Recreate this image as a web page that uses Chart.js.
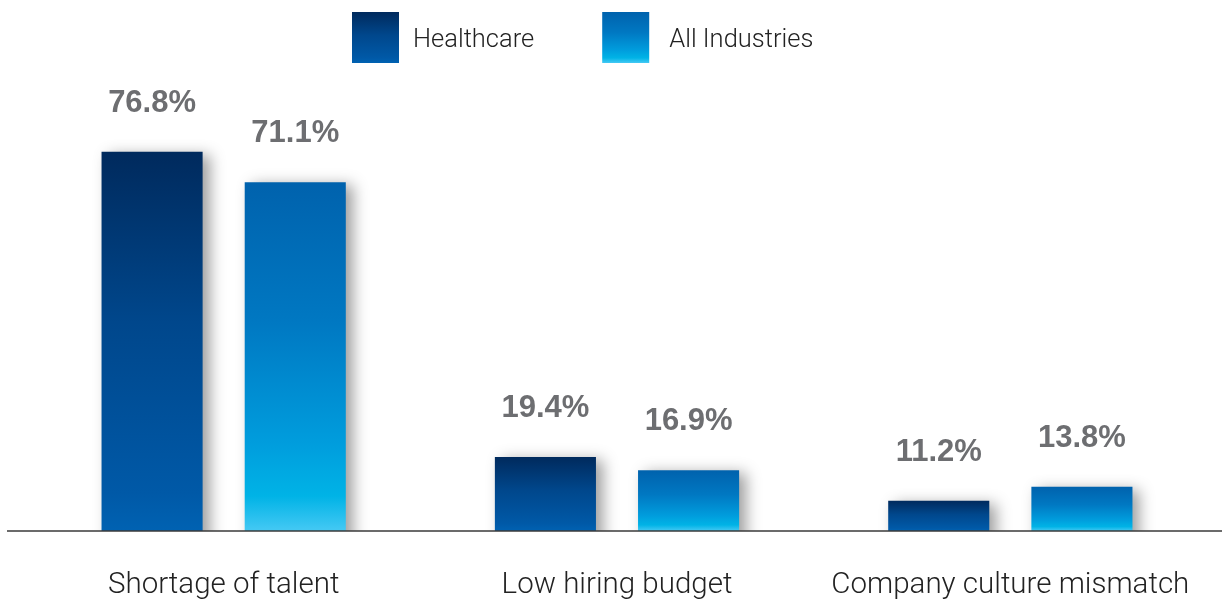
<!DOCTYPE html>
<html>
<head>
<meta charset="utf-8">
<script src="https://cdn.jsdelivr.net/npm/chart.js@4/dist/chart.umd.min.js"></script>
<style>
  html, body { margin: 0; padding: 0; background: #fff; }
  #wrap { width: 1224px; height: 600px; }
</style>
</head>
<body>
<div id="wrap"><canvas id="chartCanvas"></canvas></div>
<script>
const categories = ["Shortage of talent", "Low hiring budget", "Company culture mismatch"];
const seriesNames = ["Healthcare", "All Industries"];
const healthcare = [76.8, 19.4, 11.2];
const allIndustries = [71.1, 16.9, 13.8];

// gradient stops, top of bar -> bottom of bar
const healthcareStops = [[0, "#002a5d"], [0.45, "#00478c"], [0.9, "#0059a7"], [1, "#0062b2"]];
const allIndStops = [[0, "#0062ad"], [0.4, "#0078c2"], [0.75, "#009ddd"], [0.9, "#00b3e6"], [1, "#45c9f4"]];

function makeGradient(ctx, y0, y1, stops) {
  const g = ctx.createLinearGradient(0, y0, 0, y1);
  stops.forEach(s => g.addColorStop(s[0], s[1]));
  return g;
}

function barGradient(stops) {
  return function (context) {
    const chart = context.chart;
    const area = chart.chartArea;
    const yScale = chart.scales.y;
    if (!area || !yScale || context.raw == null) return stops[0][1];
    const top = yScale.getPixelForValue(context.raw);
    return makeGradient(chart.ctx, top, area.bottom, stops);
  };
}

const legendStops = [healthcareStops, allIndStops];

// drop shadow under the bars
const shadowPlugin = {
  id: "barShadow",
  beforeDatasetsDraw(chart) {
    const ctx = chart.ctx;
    ctx.save();
    ctx.shadowColor = "rgba(0, 0, 0, 0.38)";
    ctx.shadowBlur = 14;
    ctx.shadowOffsetX = 7;
    ctx.shadowOffsetY = 3;
  },
  afterDatasetsDraw(chart) {
    chart.ctx.restore();
  }
};

// baseline, value labels and the legend
const decorPlugin = {
  id: "decor",
  afterDatasetsDraw(chart) {
    const ctx = chart.ctx;
    const area = chart.chartArea;

    ctx.save();
    ctx.strokeStyle = "#3a3a3a";
    ctx.lineWidth = 1.6;
    ctx.beginPath();
    ctx.moveTo(7, area.bottom);
    ctx.lineTo(1222, area.bottom);
    ctx.stroke();

    ctx.fillStyle = "#6d6e71";
    ctx.font = "bold 31px 'Liberation Sans', Arial, sans-serif";
    ctx.textAlign = "center";
    ctx.textBaseline = "alphabetic";
    chart.data.datasets.forEach((ds, i) => {
      chart.getDatasetMeta(i).data.forEach((bar, j) => {
        ctx.fillText(ds.data[j].toFixed(1) + "%", bar.x, bar.y - 40);
      });
    });

    // legend
    ctx.font = "300 25.5px Roboto, 'Liberation Sans', sans-serif";
    ctx.textAlign = "left";
    ctx.textBaseline = "middle";
    let x = 352;
    const boxTop = 12, boxW = 47, boxH = 51;
    chart.data.datasets.forEach((ds, i) => {
      ctx.fillStyle = makeGradient(ctx, boxTop, boxTop + boxH, legendStops[i]);
      ctx.fillRect(x, boxTop, boxW, boxH);
      ctx.fillStyle = "#222222";
      ctx.fillText(ds.label, x + boxW + 14 + i * 6, boxTop + boxH / 2 + 3);
      x += boxW + 14 + ctx.measureText(ds.label).width + 68;
    });
    ctx.restore();
  }
};

new Chart(document.getElementById("chartCanvas").getContext("2d"), {
  type: "bar",
  data: {
    labels: categories,
    datasets: [{
      label: seriesNames[0],
      data: healthcare,
      backgroundColor: barGradient(healthcareStops),
      borderWidth: 0
    }, {
      label: seriesNames[1],
      data: allIndustries,
      backgroundColor: barGradient(allIndStops),
      borderWidth: 0
    }]
  },
  options: {
    responsive: true,
    maintainAspectRatio: false,
    animation: false,
    layout: { padding: { top: 88, left: 27, right: 17, bottom: 0 } },
    datasets: {
      bar: { barPercentage: 0.706, categoryPercentage: 0.728 }
    },
    plugins: {
      legend: { display: false },
      tooltip: { enabled: false }
    },
    scales: {
      x: {
        grid: { display: false },
        border: { display: false },
        afterFit(scale) { scale.height = 69; },
        ticks: {
          color: "#222222",
          padding: 29,
          maxRotation: 0,
          font: { family: "Roboto, 'Liberation Sans', sans-serif", size: 29.5, weight: "300" }
        }
      },
      y: {
        display: false,
        beginAtZero: false,
        min: 5.5,
        max: 88.8
      }
    }
  },
  plugins: [shadowPlugin, decorPlugin]
});
</script>
</body>
</html>
